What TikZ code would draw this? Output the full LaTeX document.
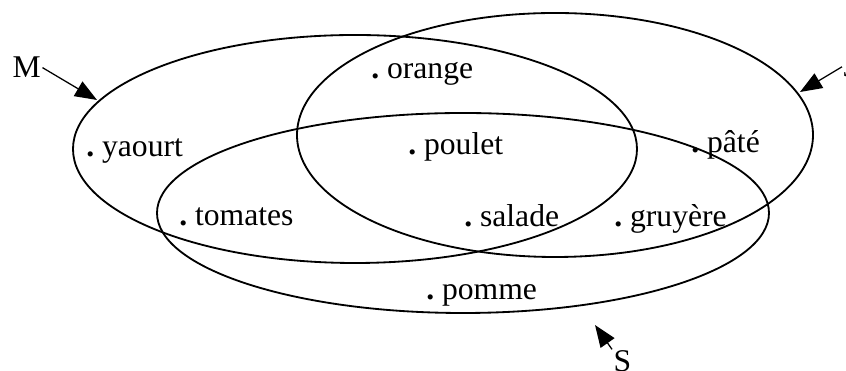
\documentclass[tikz,border=0pt]{standalone}
\usepackage{fontspec}
\setmainfont{Liberation Serif}
\usetikzlibrary{arrows.meta}
\newcommand{\eltdot}{\textbf{.}\ }
\tikzset{
  item/.style={anchor=base west, inner sep=0pt},
  setline/.style={line width=1.3pt},
  setname/.style={anchor=base west, inner sep=1pt},
  arr/.style={-{Triangle[length=0.55cm,width=0.42cm]}, line width=0.9pt}
}
\begin{document}
\begin{tikzpicture}[font=\fontsize{22.5}{26}\selectfont]
\useasboundingbox (0,0) rectangle (21.15,9.275);
\clip (0,0) rectangle (21.15,9.275);
% the three sets
\draw[setline] (8.875,5.55) ellipse [x radius=7.05cm, y radius=2.85cm];
\draw[setline] (13.875,5.9) ellipse [x radius=6.45cm, y radius=3.05cm];
\draw[setline] (11.575,3.95) ellipse [x radius=7.65cm, y radius=2.5cm];
% elements
\node[item] (orange) at (9.275,7.3) {\eltdot orange};
\node[item] (yaourt) at (2.15,5.35) {\eltdot yaourt};
\node[item] (poulet) at (10.2,5.4) {\eltdot poulet};
\node[item] (pate) at (17.275,5.45) {\eltdot pâté};
\node[item] (tomates) at (4.475,3.625) {\eltdot tomates};
\node[item] (salade) at (11.6,3.6) {\eltdot salade};
\node[item] (gruyere) at (15.35,3.6) {\eltdot gruyère};
\node[item] (pomme) at (10.65,1.775) {\eltdot pomme};
% set names and their arrows
\node[setname] (lblM) at (0.275,7.325) {M};
\node[setname] (lblJ) at (21.05,7.35) {J};
\node[setname] (lblS) at (15.3,-0.025) {S};
\coordinate (tipM) at (2.425,6.775);
\coordinate (tipJ) at (20.0,6.975);
\coordinate (tipS) at (14.875,1.15);
\draw[arr] (lblM.east) -- (tipM);
\draw[arr] (lblJ.west) -- (tipJ);
\draw[arr] (lblS.north west) -- (tipS);
\end{tikzpicture}
\end{document}
